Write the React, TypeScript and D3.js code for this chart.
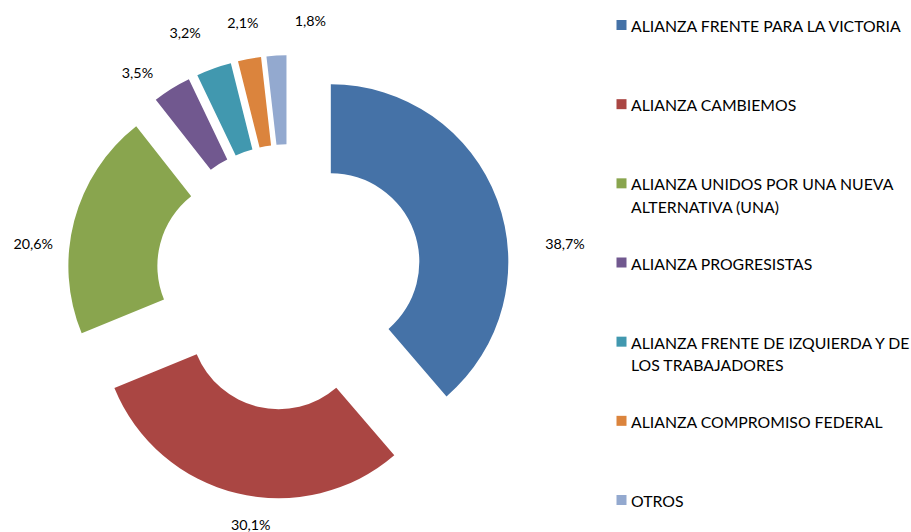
import React from "react";
import * as d3 from "d3";

const categories = [
  "ALIANZA FRENTE PARA LA VICTORIA",
  "ALIANZA CAMBIEMOS",
  "ALIANZA UNIDOS POR UNA NUEVA ALTERNATIVA (UNA)",
  "ALIANZA PROGRESISTAS",
  "ALIANZA FRENTE DE IZQUIERDA Y DE LOS TRABAJADORES",
  "ALIANZA COMPROMISO FEDERAL",
  "OTROS",
];
// legend text as it wraps in the original
const legendLines = [
  ["ALIANZA FRENTE PARA LA VICTORIA"],
  ["ALIANZA CAMBIEMOS"],
  ["ALIANZA UNIDOS POR UNA NUEVA", "ALTERNATIVA (UNA)"],
  ["ALIANZA PROGRESISTAS"],
  ["ALIANZA FRENTE DE IZQUIERDA Y DE", "LOS TRABAJADORES"],
  ["ALIANZA COMPROMISO FEDERAL"],
  ["OTROS"],
];
const values = [38.7, 30.1, 20.6, 3.5, 3.2, 2.1, 1.8];
const colors = ["#4572A7", "#AA4643", "#89A54E", "#71588F", "#4198AF", "#DB843D", "#93A9CF"];

// labels were dragged by hand in the source: nudge (deg) from slice middle, distance from center
const labelNudge = [13.4, -4.7, -7.2, -4.6, -3.2, 0, 8];
const labelDist = [278, 250, 258, 255, 266, 259, 258];

const fontFamily = "Lato, 'Open Sans', sans-serif";

const App = () => {
  const width = 911;
  const height = 532;
  const cx = 289;
  const cy = 277.3;
  const outer = 177.5;
  const inner = 88.5;
  const explode = 44.6;

  const pie = d3.pie<number>().sort(null).value(d => d).startAngle(0).endAngle(2 * Math.PI);
  const arcs = pie(values);
  const arc = d3.arc<d3.PieArcDatum<number>>().innerRadius(inner).outerRadius(outer);
  const fmt = (v: number) => d3.format(".1f")(v).replace(".", ",") + "%";

  const legendX = 616.5;
  const legendY = d3.scaleLinear().domain([0, categories.length - 1]).range([25, 500]);

  return (
    <svg
      width={width}
      height={height}
      style={{ position: "absolute", left: 0, top: 0, background: "#fff" }}
      fontFamily={fontFamily}
    >
      <g transform={`translate(${cx},${cy})`}>
        {arcs.map((a, i) => {
          const mid = (a.startAngle + a.endAngle) / 2;
          const dx = explode * Math.sin(mid);
          const dy = -explode * Math.cos(mid);
          return (
            <path
              key={categories[i]}
              d={arc(a) || ""}
              transform={`translate(${dx},${dy})`}
              fill={colors[i]}
            />
          );
        })}
        {arcs.map((a, i) => {
          const mid = (a.startAngle + a.endAngle) / 2 + (labelNudge[i] * Math.PI) / 180;
          const x = labelDist[i] * Math.sin(mid);
          const y = -labelDist[i] * Math.cos(mid);
          return (
            <text
              key={"l" + i}
              x={x}
              y={y}
              textAnchor="middle"
              dominantBaseline="central"
              fontSize={14.3}
              fill="#000"
            >
              {fmt(values[i])}
            </text>
          );
        })}
      </g>
      <g>
        {legendLines.map((lines, i) => (
          <g key={"lg" + i} transform={`translate(${legendX},${legendY(i)})`}>
            <rect x={0} y={-5} width={10} height={10} fill={colors[i]} />
            {lines.map((t, j) => (
              <text
                key={j}
                x={14.5}
                y={j * 22.5 + 0.5}
                dominantBaseline="central"
                fontSize={15.8}
                fill="#000"
              >
                {t}
              </text>
            ))}
          </g>
        ))}
      </g>
    </svg>
  );
};

export default App;
